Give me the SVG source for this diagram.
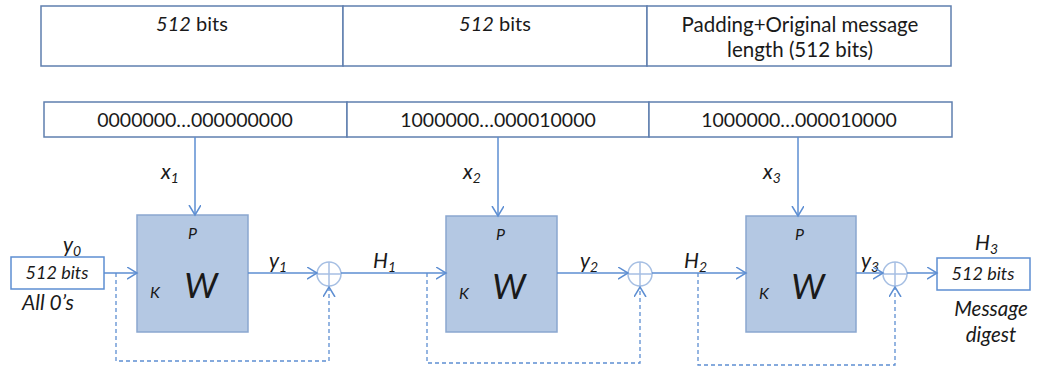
<svg xmlns="http://www.w3.org/2000/svg" width="1038" height="367" viewBox="0 0 1038 367">
  <style>
    text { font-family: Lato, "Open Sans", "Liberation Sans", sans-serif; fill: #1a1a1a; }
    .cell { fill: #ffffff; stroke: #5f7faf; stroke-width: 1.5; }
    .lbl { font-size: 20px; text-anchor: middle; }
    .bits { font-size: 19.5px; text-anchor: middle; }
    .it { font-style: italic; }
    .sub { font-size: 14px; }
    .wbox { fill: #b4c8e3; stroke: #8aa7cf; stroke-width: 1.5; }
    .line { fill: none; stroke: #5d8ed2; stroke-width: 1.5; }
    .dash { fill: none; stroke: #5d8ed2; stroke-width: 1.3; stroke-dasharray: 4 3; }
    .xor { fill: none; stroke: #a6bfe3; stroke-width: 1.5; }
    .iobox { fill: #ffffff; stroke: #5d8ed2; stroke-width: 1.5; }
  </style>
  <defs>
    <marker id="arr" markerUnits="userSpaceOnUse" markerWidth="12" markerHeight="14" refX="10" refY="6" orient="auto">
      <path d="M0,0 L10,6 L0,12" fill="none" stroke="#5d8ed2" stroke-width="1.5"/>
    </marker>
  </defs>

  <!-- message blocks -->
  <g id="blocks">
    <rect class="cell" x="41" y="6" width="302" height="60"/>
    <rect class="cell" x="343" y="6" width="304" height="60"/>
    <rect class="cell" x="647" y="6" width="304" height="60"/>
    <text class="lbl" x="192" y="31"><tspan class="it">512</tspan> bits</text>
    <text class="lbl" x="495" y="31"><tspan class="it">512</tspan> bits</text>
    <text class="lbl" x="800" y="32" style="font-size:20.5px">Padding+Original message</text>
    <text class="lbl" x="800" y="57" style="font-size:20.5px">length (512 bits)</text>
  </g>

  <!-- binary contents of each block -->
  <g id="bits">
    <rect class="cell" x="44" y="102" width="303" height="35"/>
    <rect class="cell" x="347" y="102" width="302" height="35"/>
    <rect class="cell" x="649" y="102" width="303" height="35"/>
    <text class="bits" x="195" y="127">0000000…000000000</text>
    <text class="bits" x="498" y="127">1000000…000010000</text>
    <text class="bits" x="799" y="127">1000000…000010000</text>
  </g>

  <!-- initial value -->
  <g id="iv">
    <rect class="iobox" x="11" y="257" width="93" height="32"/>
    <text class="lbl it" x="57" y="279" style="font-size:18px">512 bits</text>
    <text class="it" x="63" y="252" style="font-size:21px">y<tspan class="sub" dy="4">0</tspan></text>
    <text class="it" x="22" y="310" style="font-size:21px">All 0’s</text>
  </g>

  <!-- compression stages -->
  <g id="w1">
    <rect class="wbox" x="137" y="215" width="111" height="117"/>
    <text class="it" x="188" y="239" style="font-size:16px">P</text>
    <text class="it" x="150" y="298" style="font-size:16px">K</text>
    <text class="it" x="201" y="298" style="font-size:35px; text-anchor:middle">W</text>
  </g>
  <g id="w2">
    <rect class="wbox" x="446" y="216" width="111" height="116"/>
    <text class="it" x="496" y="240" style="font-size:16px">P</text>
    <text class="it" x="459" y="299" style="font-size:16px">K</text>
    <text class="it" x="509" y="299" style="font-size:35px; text-anchor:middle">W</text>
  </g>
  <g id="w3">
    <rect class="wbox" x="746" y="216" width="110" height="116"/>
    <text class="it" x="795" y="240" style="font-size:16px">P</text>
    <text class="it" x="759" y="299" style="font-size:16px">K</text>
    <text class="it" x="808" y="299" style="font-size:35px; text-anchor:middle">W</text>
  </g>

  <!-- modular adders -->
  <g id="add1">
    <circle class="xor" cx="329" cy="274" r="12"/>
    <path class="xor" d="M317,274 H341 M329,262 V286"/>
  </g>
  <g id="add2">
    <circle class="xor" cx="640" cy="274" r="12"/>
    <path class="xor" d="M628,274 H652 M640,262 V286"/>
  </g>
  <g id="add3">
    <circle class="xor" cx="895" cy="274" r="12"/>
    <path class="xor" d="M883,274 H907 M895,262 V286"/>
  </g>

  <!-- digest output -->
  <g id="digest">
    <rect class="iobox" x="937" y="258" width="93" height="32"/>
    <text class="lbl it" x="983" y="280" style="font-size:18px">512 bits</text>
    <text class="it" x="975" y="250" style="font-size:21px">H<tspan class="sub" dy="4">3</tspan></text>
    <text class="lbl it" x="991" y="316" style="font-size:20.5px">Message</text>
    <text class="lbl it" x="991" y="342" style="font-size:20.5px">digest</text>
  </g>

  <!-- signal labels -->
  <g id="labels">
    <text class="it" x="161" y="179" style="font-size:21px">x<tspan class="sub" dy="4">1</tspan></text>
    <text class="it" x="463" y="179" style="font-size:21px">x<tspan class="sub" dy="4">2</tspan></text>
    <text class="it" x="763" y="179" style="font-size:21px">x<tspan class="sub" dy="4">3</tspan></text>
    <text class="it" x="269" y="268" style="font-size:21px">y<tspan class="sub" dy="4">1</tspan></text>
    <text class="it" x="580" y="268" style="font-size:21px">y<tspan class="sub" dy="4">2</tspan></text>
    <text class="it" x="861" y="268" style="font-size:21px">y<tspan class="sub" dy="4">3</tspan></text>
    <text class="it" x="373" y="268" style="font-size:21px">H<tspan class="sub" dy="4">1</tspan></text>
    <text class="it" x="684" y="268" style="font-size:21px">H<tspan class="sub" dy="4">2</tspan></text>
  </g>

  <!-- connectors -->
  <g id="connectors">
    <path class="line" d="M195,137 V215" marker-end="url(#arr)"/>
    <path class="line" d="M498,137 V216" marker-end="url(#arr)"/>
    <path class="line" d="M798,137 V216" marker-end="url(#arr)"/>

    <path class="line" d="M104,273 H137" marker-end="url(#arr)"/>
    <path class="line" d="M248,273 H317" marker-end="url(#arr)"/>
    <path class="line" d="M341,273 H446" marker-end="url(#arr)"/>
    <path class="line" d="M557,273 H628" marker-end="url(#arr)"/>
    <path class="line" d="M652,273 H746" marker-end="url(#arr)"/>
    <path class="line" d="M856,273 H883" marker-end="url(#arr)"/>
    <path class="line" d="M907,273 H937" marker-end="url(#arr)"/>

    <path class="dash" d="M116,273 V361 H329 V287" marker-end="url(#arr)"/>
    <path class="dash" d="M427,273 V363 H640 V287" marker-end="url(#arr)"/>
    <path class="dash" d="M698,273 V365 H895 V287" marker-end="url(#arr)"/>
  </g>
</svg>
